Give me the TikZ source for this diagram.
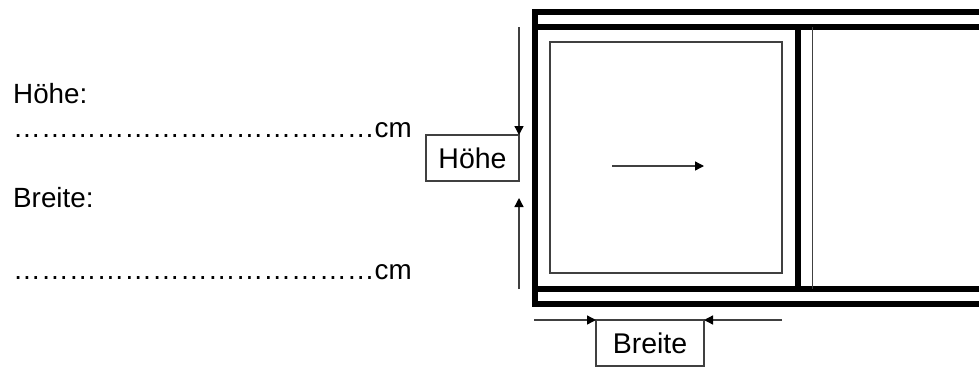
\documentclass[tikz,border=0pt]{standalone}
\usepackage{fontspec}
\setmainfont{Liberation Sans}
\usetikzlibrary{arrows.meta}
\definecolor{thinc}{gray}{0.25}
\newcommand{\dotfour}{…\kern0pt…\kern0pt…\kern0pt…}
\newcommand{\dotrun}{\dotfour\dotfour\dotfour…}
\tikzset{
  x=1pt,y=-1pt,
  heavy/.style={line width=6pt,black},
  slim/.style={line width=1.5pt,thinc},
  dimline/.style={line width=1.3pt,thinc,-{Triangle[length=9pt,width=9pt,color=black]}},
  labelbox/.style={draw=thinc,line width=1.3pt,inner sep=0pt,outer sep=0pt,font=\fontsize{28.5}{28.5}\selectfont},
  plain/.style={inner sep=0pt,anchor=base west,font=\fontsize{27.8}{27.8}\selectfont},
}
\begin{document}
\begin{tikzpicture}
\useasboundingbox (0,0) rectangle (979,367);
% frame
\draw[heavy] (979,12) -- (535,12) -- (535,304) -- (979,304);
\draw[heavy] (535,27) -- (979,27);
\draw[heavy] (535,289) -- (979,289);
\draw[heavy] (798,27) -- (798,289);
\draw[slim] (812.7,27) -- (812.7,289);
\draw[slim] (550,42) rectangle (782,273);
% centre arrow
\coordinate (ca) at (612,166);
\coordinate (cb) at (704,166);
\draw[dimline] (ca) -- (cb);
% label boxes
\node[labelbox,minimum width=93pt,minimum height=46pt] (hoehe) at (472.5,158) {Höhe};
\node[labelbox,minimum width=108pt,minimum height=46pt] (breite) at (650,343) {Breite};
% dimension lines
\coordinate (ht) at (519,27);
\coordinate (hb) at (519,289);
\coordinate (hi) at (519,198);
\coordinate (bl) at (534,320);
\coordinate (br) at (782,320);
\draw[dimline] (ht) -- (hoehe.north east);
\draw[dimline] (hb) -- (hi);
\draw[dimline] (bl) -- (breite.north west);
\draw[dimline] (br) -- (breite.north east);
% text
\node[plain] (t1) at (13,103) {Höhe:};
\node[plain] (t2) at (13,137) {\dotrun cm};
\node[plain] (t3) at (13,207) {Breite:};
\node[plain] (t4) at (13,279) {\dotrun cm};
\end{tikzpicture}
\end{document}
